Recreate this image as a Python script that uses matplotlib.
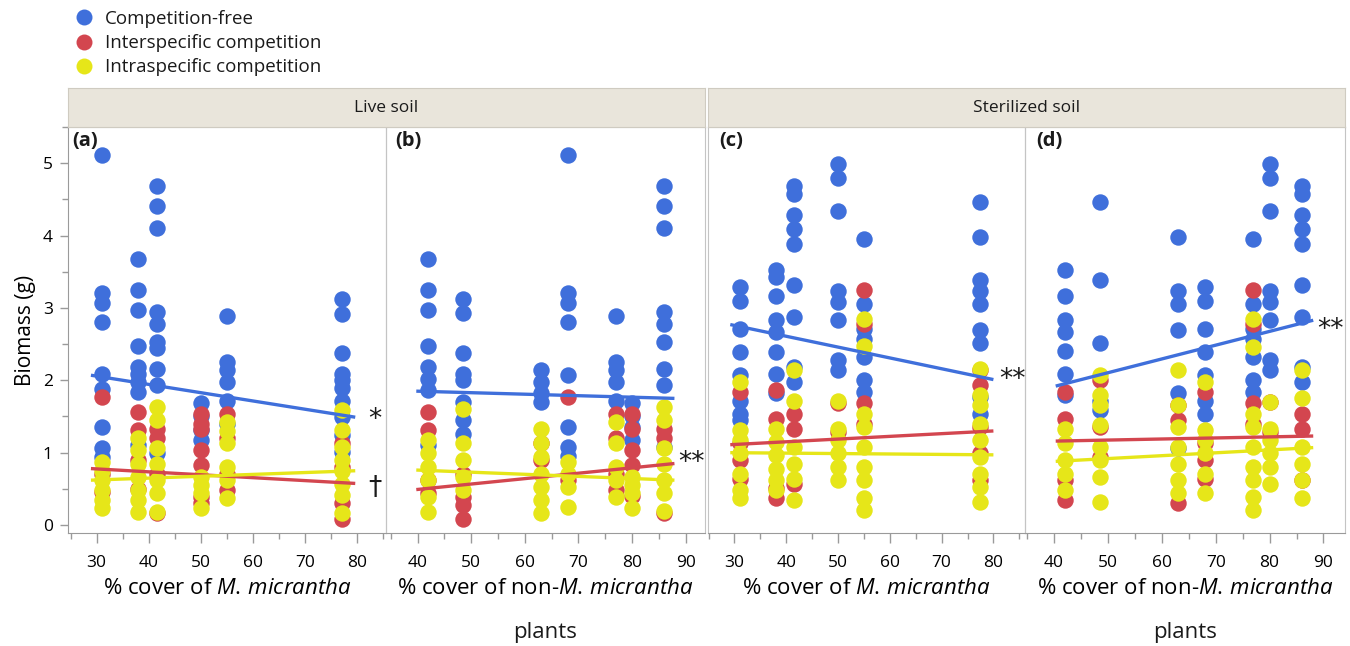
"""Biomass vs % cover, live vs sterilized soil, three competition treatments."""

import matplotlib

matplotlib.use("Agg")
import matplotlib.pyplot as plt  # noqa: E402
from matplotlib.lines import Line2D  # noqa: E402
from matplotlib.ticker import MultipleLocator, NullFormatter  # noqa: E402

plt.rcParams.update(
    {
        "font.family": ["Open Sans", "DejaVu Sans"],
        "mathtext.fontset": "custom",
        "mathtext.rm": "Open Sans",
        "mathtext.it": "Open Sans:italic",
        "mathtext.bf": "Open Sans:bold",
        "text.color": "#1a1a1a",
    }
)

GROUPS = ["Competition-free", "Interspecific competition", "Intraspecific competition"]
COLORS = ["#3F6FDB", "#D3464F", "#E6E619"]

# ---- panel (a): live soil, % cover of M. micrantha
A_COVER = [31, 38, 41.5, 50, 55, 77]
A_FREE = [
    [5.12, 3.20, 3.07, 2.80, 2.09, 1.88, 1.35, 1.06, 0.94],
    [3.67, 3.25, 2.97, 2.48, 2.19, 2.09, 1.98, 1.84, 1.10],
    [4.69, 4.41, 4.11, 2.94, 2.78, 2.53, 2.44, 2.16, 1.93, 0.99],
    [1.68, 1.50, 1.31, 1.17],
    [2.89, 2.25, 2.14, 1.98, 1.72, 1.40],
    [3.13, 2.92, 2.38, 2.09, 2.00, 1.89, 1.72, 1.49, 1.24, 1.01],
]
A_INTER = [
    [1.77, 0.70, 0.45],
    [1.56, 1.32, 0.90, 0.50],
    [1.33, 1.20, 0.70, 0.16],
    [1.54, 1.40, 1.33, 1.03, 0.83, 0.39, 0.30],
    [1.54, 1.20, 0.71, 0.48],
    [1.13, 0.80, 0.30, 0.09],
]
A_INTRA = [
    [0.87, 0.74, 0.62, 0.48, 0.34, 0.23],
    [1.20, 1.03, 0.85, 0.67, 0.48, 0.34, 0.18],
    [1.63, 1.45, 1.06, 0.85, 0.62, 0.44, 0.18],
    [0.67, 0.55, 0.44, 0.23],
    [1.43, 1.30, 1.13, 0.80, 0.62, 0.37],
    [1.59, 1.31, 1.08, 0.90, 0.74, 0.57, 0.41, 0.16],
]
A_FIT_X = [28.9, 79.6]
A_FIT = [[2.07, 1.49], [0.78, 0.575], [0.62, 0.75]]

# ---- panel (b): live soil, % cover of non-M. micrantha plants
B_COVER = [42, 48.5, 63, 68, 77, 80, 86]
B_FREE = [
    [3.67, 3.25, 2.97, 2.48, 2.19, 2.02, 1.86, 1.10],
    [3.13, 2.93, 2.38, 2.09, 2.00, 1.70, 1.45, 1.26],
    [2.14, 1.98, 1.82, 1.70],
    [5.12, 3.20, 3.07, 2.80, 2.08, 1.35, 1.08, 0.95],
    [2.89, 2.25, 2.14, 1.98, 1.72],
    [1.68, 1.50, 1.36, 1.17],
    [4.69, 4.41, 4.11, 2.94, 2.78, 2.53, 2.16, 1.93, 1.08],
]
B_INTER = [
    [1.56, 1.31, 0.62, 0.44],
    [0.70, 0.39, 0.28, 0.09],
    [1.13, 0.90],
    [1.77, 0.62],
    [1.54, 1.20, 0.71, 0.48],
    [1.54, 1.33, 1.03, 0.83, 0.40],
    [1.33, 1.20, 0.16],
]
B_INTRA = [
    [1.17, 0.99, 0.80, 0.62, 0.39, 0.18],
    [1.60, 1.13, 0.90, 0.67, 0.48],
    [1.33, 1.13, 0.94, 0.71, 0.53, 0.34, 0.16],
    [0.87, 0.71, 0.53, 0.25],
    [1.43, 1.13, 0.80, 0.62, 0.39],
    [0.67, 0.55, 0.44, 0.23],
    [1.63, 1.45, 1.06, 0.85, 0.62, 0.44, 0.20],
]
B_FIT_X = [39.75, 87.9]
B_FIT = [[1.85, 1.75], [0.49, 0.85], [0.76, 0.62]]

# ---- panel (c): sterilized soil, % cover of M. micrantha
C_COVER = [31, 38, 41.5, 50, 55, 77.5]
C_FREE = [
    [3.29, 3.10, 2.71, 2.39, 2.07, 1.72, 1.54, 1.45],
    [3.52, 3.43, 3.16, 2.83, 2.67, 2.39, 2.09, 1.82],
    [4.68, 4.57, 4.28, 4.09, 3.89, 3.31, 2.87, 2.18, 1.98],
    [4.99, 4.79, 4.34, 3.24, 3.08, 2.84, 2.28, 2.14],
    [3.95, 3.06, 2.71, 2.57, 2.32, 2.00, 1.84],
    [4.46, 3.98, 3.39, 3.24, 3.06, 2.70, 2.51, 1.77, 1.54],
]
C_INTER = [
    [1.84, 1.13, 0.90, 0.64],
    [1.86, 1.47, 0.51, 0.37],
    [1.54, 1.33, 0.57],
    [1.68, 1.29],
    [3.25, 2.78, 1.68, 1.40],
    [2.14, 1.93, 1.36, 0.99, 0.62],
]
C_INTRA = [
    [1.98, 1.31, 1.17, 0.99, 0.71, 0.48, 0.37],
    [1.33, 1.15, 0.97, 0.78, 0.62, 0.48],
    [2.14, 1.72, 1.08, 0.85, 0.64, 0.34],
    [1.72, 1.33, 1.17, 0.99, 0.80, 0.62],
    [2.85, 2.48, 1.54, 1.36, 1.08, 0.80, 0.62, 0.37, 0.21],
    [2.16, 1.79, 1.66, 1.40, 1.17, 0.94, 0.71, 0.53, 0.32],
]
C_FIT_X = [29.2, 80.0]
C_FIT = [[2.77, 2.01], [1.11, 1.30], [1.00, 0.97]]

# ---- panel (d): sterilized soil, % cover of non-M. micrantha plants
D_COVER = [42, 48.5, 63, 68, 77, 80, 86]
D_FREE = [
    [3.52, 3.16, 2.83, 2.67, 2.41, 2.09, 1.79],
    [4.46, 3.39, 2.51, 1.72, 1.59],
    [3.98, 3.24, 3.06, 2.70, 1.82, 1.06],
    [3.29, 3.10, 2.71, 2.39, 2.07, 1.72, 1.54],
    [3.95, 3.06, 2.71, 2.57, 2.32, 2.00, 1.84],
    [4.99, 4.79, 4.34, 3.24, 3.08, 2.84, 2.28, 2.14],
    [4.68, 4.57, 4.28, 4.09, 3.89, 3.31, 2.87, 2.18, 1.98],
]
D_INTER = [
    [1.84, 1.47, 0.62, 0.34],
    [2.00, 1.36, 0.94],
    [1.66, 1.45, 0.30],
    [1.84, 1.13, 0.90, 0.64],
    [3.25, 2.78, 1.68, 1.40],
    [1.70, 1.29],
    [1.54, 1.33, 0.62],
]
D_INTRA = [
    [1.33, 1.13, 0.90, 0.71, 0.48],
    [2.07, 1.79, 1.66, 1.38, 1.08, 0.90, 0.67, 0.32],
    [2.14, 1.66, 1.36, 1.08, 0.85, 0.62, 0.44],
    [1.98, 1.31, 1.17, 0.99, 0.71, 0.44],
    [2.85, 2.46, 1.54, 1.36, 1.08, 0.80, 0.62, 0.39, 0.21],
    [1.70, 1.33, 1.17, 0.99, 0.80, 0.57],
    [2.14, 1.75, 1.08, 0.85, 0.62, 0.37],
]
D_FIT_X = [40.3, 88.1]
D_FIT = [[1.92, 2.83], [1.16, 1.23], [0.88, 1.07]]

# significance marks: (x, y, text)
A_MARKS = [(82.0, 1.45, "*"), (82.0, 0.51, "†")]
B_MARKS = [(88.6, 0.86, "**")]
C_MARKS = [(81.2, 2.01, "**")]
D_MARKS = [(88.8, 2.69, "**")]

XLAB_M = r"% cover of $\it{M.}\,\it{micrantha}$"
XLAB_NON = r"% cover of non-$\it{M.}\,\it{micrantha}$"

FRAME = "#C4C4C4"
AXIS = "#9A9A9A"


def draw_panel(ax, cover, series, fit_x, fits, marks, xlim, tag, tag_x, xlabel, second_line):
    ax.patch.set_alpha(0)
    for cols, color in zip(series, COLORS):
        xs, ys = [], []
        for c, vals in zip(cover, cols):
            xs += [c] * len(vals)
            ys += vals
        ax.scatter(xs, ys, s=140, color=color, linewidths=0, zorder=2, clip_on=False)
    for fy, color in zip(fits, COLORS):
        ax.plot(fit_x, fy, color=color, lw=2.4, zorder=3, solid_capstyle="butt")
    for x, y, t in marks:
        ax.text(x, y, t, fontsize=19, ha="left", va="center", family="DejaVu Sans",
                zorder=4, clip_on=False)

    ax.set_xlim(*xlim)
    ax.set_ylim(-0.11, 5.5)
    ax.xaxis.set_major_locator(MultipleLocator(10))
    ax.xaxis.set_minor_locator(MultipleLocator(5))
    ax.tick_params(axis="x", which="major", direction="out", length=7, width=1,
                   color=AXIS, labelsize=12.5, pad=9)
    ax.tick_params(axis="x", which="minor", direction="out", length=4, width=1, color=AXIS)
    for side in ("top", "right", "left"):
        ax.spines[side].set_color(FRAME)
    ax.spines["bottom"].set_color(AXIS)
    ax.set_xlabel(xlabel, fontsize=16, labelpad=5)
    if second_line:
        ax.text(0.5, -0.245, "plants", transform=ax.transAxes, ha="center",
                va="center", fontsize=16)
    ax.text(tag_x, 0.99, tag, transform=ax.transAxes, ha="left", va="top",
            fontsize=14.5, fontweight="bold")


def main() -> None:
    fig = plt.figure(figsize=(13.5, 6.46), dpi=100)
    W, H = 1350.0, 646.0
    bottom, top = 533.0, 127.0
    spans = [(68, 386), (386, 705), (708, 1025), (1025, 1345)]
    axes = [
        fig.add_axes([x0 / W, 1 - bottom / H, (x1 - x0) / W, (bottom - top) / H])
        for x0, x1 in spans
    ]

    draw_panel(axes[0], A_COVER, [A_FREE, A_INTER, A_INTRA], A_FIT_X, A_FIT, A_MARKS,
               (24.5, 85.5), "(a)", 0.012, XLAB_M, False)
    draw_panel(axes[1], B_COVER, [B_FREE, B_INTER, B_INTRA], B_FIT_X, B_FIT, B_MARKS,
               (34.1, 93.6), "(b)", 0.028, XLAB_NON, True)
    draw_panel(axes[2], C_COVER, [C_FREE, C_INTER, C_INTRA], C_FIT_X, C_FIT, C_MARKS,
               (24.9, 86.1), "(c)", 0.037, XLAB_M, False)
    draw_panel(axes[3], D_COVER, [D_FREE, D_INTER, D_INTRA], D_FIT_X, D_FIT, D_MARKS,
               (34.6, 94.0), "(d)", 0.036, XLAB_NON, True)

    ax = axes[0]
    ax.yaxis.set_major_locator(MultipleLocator(1))
    ax.yaxis.set_minor_locator(MultipleLocator(0.5))
    ax.tick_params(axis="y", which="major", direction="out", length=6, width=1,
                   color=AXIS, labelsize=12.5, pad=5)
    ax.tick_params(axis="y", which="minor", direction="out", length=4, width=1, color=AXIS)
    ax.spines["left"].set_color(AXIS)
    ax.set_ylabel("Biomass (g)", fontsize=15, labelpad=5)
    for a in axes[1:]:
        a.tick_params(axis="y", which="both", left=False, labelleft=False)
        a.yaxis.set_minor_formatter(NullFormatter())

    # facet strips
    for (x0, x1), name in [((68, 705), "Live soil"), ((708, 1345), "Sterilized soil")]:
        s = fig.add_axes([x0 / W, 1 - top / H, (x1 - x0) / W, 39 / H])
        s.set_facecolor("#E9E5DB")
        s.set_xticks([])
        s.set_yticks([])
        for sp in s.spines.values():
            sp.set_color("#CFCBC1")
        s.text(0.5, 0.5, name, ha="center", va="center", fontsize=12.5, transform=s.transAxes)

    handles = [
        Line2D([], [], ls="none", marker="o", ms=11.5, color=c, markeredgewidth=0)
        for c in COLORS
    ]
    fig.legend(handles, GROUPS, loc="upper left", bbox_to_anchor=(75 / W, 1 - 10 / H),
               frameon=False, fontsize=13.5, handlelength=1.0, handletextpad=0.6,
               labelspacing=0.33, borderpad=0, borderaxespad=0)

    fig.savefig("out.png", dpi=100)
    plt.close(fig)


if __name__ == "__main__":
    main()
